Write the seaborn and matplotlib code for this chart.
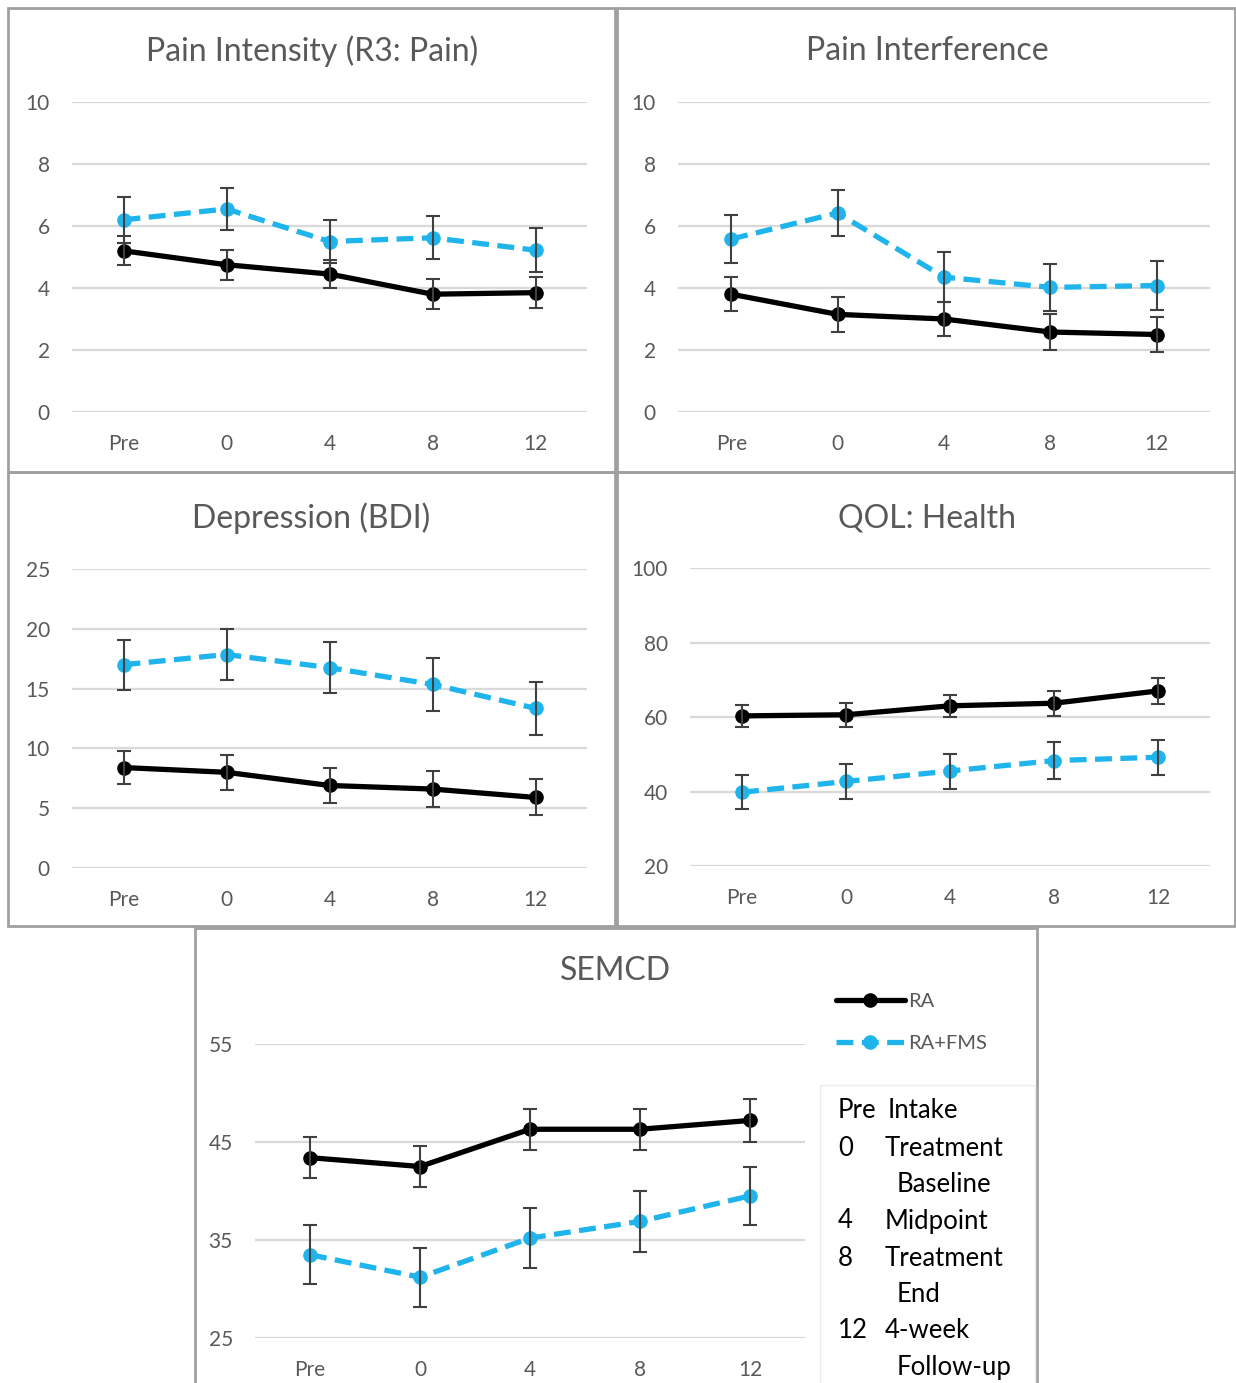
# RA vs RA+FMS outcome trajectories, five panels

import matplotlib
matplotlib.use('Agg')
import matplotlib.pyplot as plt
from matplotlib.patches import Rectangle
import numpy as np
import pandas as pd
import seaborn as sns

timepoints = ['Pre', '0', '4', '8', '12']
groups = ['RA', 'RA+FMS']

pain_int_ra = [5.2, 4.75, 4.45, 3.8, 3.85]
pain_int_ra_err = [0.47, 0.48, 0.45, 0.48, 0.5]
pain_int_fms = [6.2, 6.55, 5.5, 5.62, 5.22]
pain_int_fms_err = [0.75, 0.68, 0.7, 0.7, 0.7]

pain_intf_ra = [3.8, 3.15, 3.0, 2.58, 2.5]
pain_intf_ra_err = [0.55, 0.57, 0.55, 0.58, 0.57]
pain_intf_fms = [5.58, 6.42, 4.35, 4.02, 4.08]
pain_intf_fms_err = [0.78, 0.74, 0.8, 0.77, 0.78]

bdi_ra = [8.4, 8.0, 6.9, 6.6, 5.9]
bdi_ra_err = [1.4, 1.45, 1.45, 1.5, 1.5]
bdi_fms = [17.0, 17.85, 16.75, 15.35, 13.35]
bdi_fms_err = [2.1, 2.15, 2.15, 2.2, 2.2]

qol_ra = [60.3, 60.6, 63.0, 63.7, 67.0]
qol_ra_err = [3.0, 3.2, 3.0, 3.4, 3.4]
qol_fms = [39.8, 42.7, 45.5, 48.3, 49.2]
qol_fms_err = [4.5, 4.8, 4.7, 4.9, 4.7]

semcd_ra = [43.4, 42.5, 46.3, 46.3, 47.2]
semcd_ra_err = [2.1, 2.1, 2.1, 2.1, 2.15]
semcd_fms = [33.5, 31.2, 35.2, 36.9, 39.5]
semcd_fms_err = [3.0, 3.0, 3.1, 3.1, 3.0]

legend_terms = [('Pre', 'Intake'), ('0', 'Treatment'), ('', 'Baseline'), ('4', 'Midpoint'),
                ('8', 'Treatment'), ('', 'End'), ('12', '4-week'), ('', 'Follow-up')]

sns.set_style('white')
plt.rcParams['font.family'] = ['Lato', 'DejaVu Sans']

W, H = 1236, 1383
fig = plt.figure(figsize=(W / 100, H / 100), dpi=100)
GREY = '#595959'
BLUE = '#1fb4ec'


def px_axes(l, t, r, b):
    return fig.add_axes([l / W, 1 - b / H, (r - l) / W, (b - t) / H])


def panel(box, title, title_xy, ra, ra_err, fms, fms_err, ylim, yticks, show_legend=False):
    ax = px_axes(*box)
    df = pd.DataFrame({
        'pos': list(range(len(timepoints))) * 2,
        'value': ra + fms,
        'group': [groups[0]] * len(ra) + [groups[1]] * len(fms),
    })
    sns.lineplot(data=df, x='pos', y='value', hue='group', style='group',
                 palette={'RA': 'black', 'RA+FMS': BLUE},
                 dashes={'RA': '', 'RA+FMS': (3.2, 1.6)},
                 markers={'RA': 'o', 'RA+FMS': 'o'},
                 lw=3.8, markersize=10.5, markeredgewidth=0,
                 legend=show_legend, ax=ax)
    x = np.arange(len(timepoints))
    for vals, errs in [(ra, ra_err), (fms, fms_err)]:
        ax.errorbar(x, vals, yerr=errs, fmt='none', ecolor='#404040', elinewidth=1.5,
                    capsize=5, capthick=1.5, zorder=4)
    ax.set_xlim(-0.5, len(timepoints) - 0.5)
    ax.set_ylim(*ylim)
    ax.set_yticks(yticks)
    ax.set_xticks(x)
    ax.set_xticklabels(timepoints)
    ax.set_xlabel('')
    ax.set_ylabel('')
    ax.yaxis.grid(True, color='#d9d9d9', lw=1.6)
    ax.xaxis.grid(False)
    ax.set_axisbelow(True)
    for s in ax.spines.values():
        s.set_visible(False)
    ax.tick_params(axis='y', length=0, pad=16, labelsize=15, labelcolor=GREY)
    ax.tick_params(axis='x', length=0, pad=16, labelsize=15, labelcolor=GREY)
    ax.patch.set_alpha(0)
    fig.text(title_xy[0] / W, 1 - title_xy[1] / H, title, ha='center', va='center',
             fontsize=23, color=GREY)
    return ax


# panel frames
for (l, t, r, b) in [(8, 8, 615, 472), (617, 8, 1235, 472), (8, 472, 615, 926),
                     (617, 472, 1235, 926), (195, 928, 1037, 1395)]:
    fig.add_artist(Rectangle((l / W, 1 - b / H), (r - l) / W, (b - t) / H,
                             transform=fig.transFigure, fill=False,
                             edgecolor='#a0a0a0', lw=2))

panel((72, 102, 587, 412), 'Pain Intensity (R3: Pain)', (312, 51),
      pain_int_ra, pain_int_ra_err, pain_int_fms, pain_int_fms_err, (0, 10), [0, 2, 4, 6, 8, 10])
panel((678, 102, 1210, 412), 'Pain Interference', (927, 51),
      pain_intf_ra, pain_intf_ra_err, pain_intf_fms, pain_intf_fms_err, (0, 10), [0, 2, 4, 6, 8, 10])
panel((72, 569, 587, 868), 'Depression (BDI)', (311, 518),
      bdi_ra, bdi_ra_err, bdi_fms, bdi_fms_err, (0, 25), [0, 5, 10, 15, 20, 25])
panel((690, 568, 1210, 866), 'QOL: Health', (927, 518),
      qol_ra, qol_ra_err, qol_fms, qol_fms_err, (20, 100), [20, 40, 60, 80, 100])
ax5 = panel((255, 1044, 805, 1338), 'SEMCD', (615, 971),
            semcd_ra, semcd_ra_err, semcd_fms, semcd_fms_err, (25, 55), [25, 35, 45, 55],
            show_legend=True)

leg = ax5.legend(loc='upper left', bbox_to_anchor=(818 / W, 1 - 975 / H),
                 bbox_transform=fig.transFigure, frameon=False, fontsize=14.5,
                 handlelength=3.4, handletextpad=0.2, labelspacing=1.25)
for t in leg.get_texts():
    t.set_color(GREY)

# time-point key box
fig.add_artist(Rectangle((820 / W, 1 - 1395 / H), 215 / W, 310 / H,
                         transform=fig.transFigure, fill=False, edgecolor='#ececec', lw=1))
row_y = [1111, 1149, 1185, 1221, 1258, 1294, 1331, 1368]
for (k, v), y in zip(legend_terms, row_y):
    if k:
        fig.text(838 / W, 1 - y / H, k, ha='left', va='center', fontsize=18.5, color='black')
    vx = 888 if k == 'Pre' else (897 if not k else 885)
    fig.text(vx / W, 1 - y / H, v, ha='left', va='center', fontsize=18.5, color='black')

fig.savefig('out.png', dpi=100)
